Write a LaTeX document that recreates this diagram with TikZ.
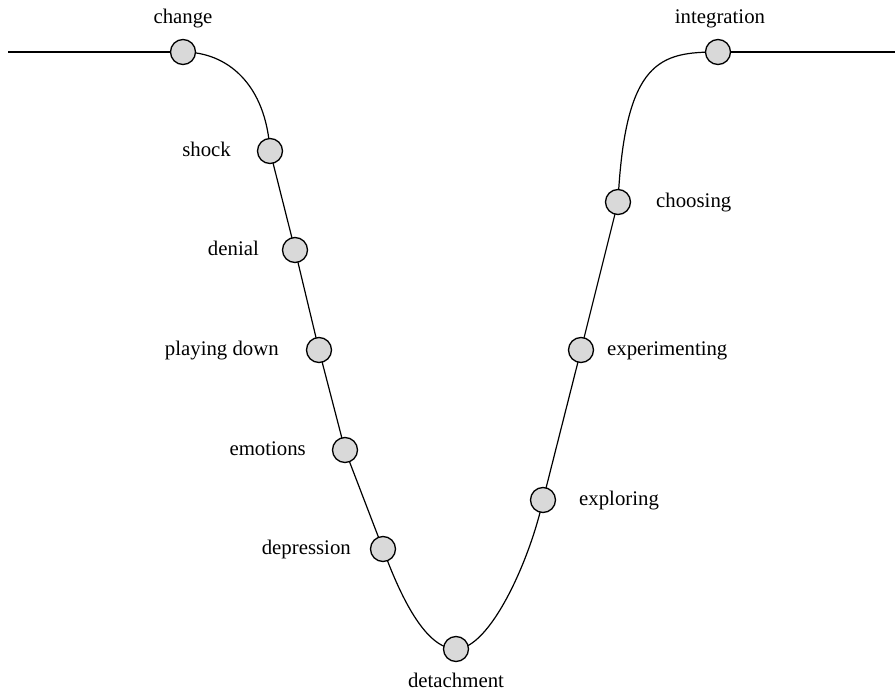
\documentclass[tikz,border=0pt]{standalone}
\usepackage{fontspec}
\setmainfont{Liberation Serif}
\definecolor{stagefill}{HTML}{D9D9D9}
\begin{document}
\begin{tikzpicture}[x=1pt,y=-1pt,
  stage/.style={circle,draw=black,line width=1.3pt,fill=stagefill,minimum size=25pt,inner sep=0pt},
  lbl/.style={font=\fontsize{20.8}{25}\selectfont,inner sep=0pt,text height=14pt,text depth=4pt},
  curve/.style={line width=1.2pt},
  base/.style={line width=2.2pt}]
\useasboundingbox (0,0) rectangle (895,693);
% node positions
\coordinate (lstart) at (8,52);
\coordinate (rend) at (895,52);
\coordinate (pchange) at (183,52);
\coordinate (pshock) at (270,151);
\coordinate (pdenial) at (295,250);
\coordinate (pplay) at (319,350);
\coordinate (pemo) at (345,450);
\coordinate (pdep) at (383,549);
\coordinate (pdet) at (456,649);
\coordinate (pexpl) at (543,500);
\coordinate (pexper) at (581,350);
\coordinate (pchoose) at (618,202);
\coordinate (pint) at (718,52);
% base lines
\draw[base] (lstart) -- (pchange);
\draw[base] (pint) -- (rend);
% the curve
\draw[curve] (pchange) .. controls (228,52) and (266,85) .. (pshock)
  -- (pdenial) -- (pplay) -- (pemo) -- (pdep)
  .. controls (400,595) and (425,649) .. (pdet)
  .. controls (490,649) and (530,560) .. (pexpl)
  -- (pexper) -- (pchoose)
  .. controls (625,60) and (660,52) .. (pint);
% stage circles
\node[stage] (change) at (pchange) {};
\node[stage] (shock) at (pshock) {};
\node[stage] (denial) at (pdenial) {};
\node[stage] (play) at (pplay) {};
\node[stage] (emo) at (pemo) {};
\node[stage] (dep) at (pdep) {};
\node[stage] (det) at (pdet) {};
\node[stage] (expl) at (pexpl) {};
\node[stage] (exper) at (pexper) {};
\node[stage] (choose) at (pchoose) {};
\node[stage] (int) at (pint) {};
% labels
\node[lbl] (tchange) at (183,19) {change};
\node[lbl] (tint) at (720,19) {integration};
\node[lbl,anchor=east] (tshock) at (231,151) {shock};
\node[lbl,anchor=east] (tdenial) at (259,250) {denial};
\node[lbl,anchor=east] (tplay) at (279,350) {playing down};
\node[lbl,anchor=east] (temo) at (306,450) {emotions};
\node[lbl,anchor=east] (tdep) at (351,549) {depression};
\node[lbl] (tdet) at (456,682) {detachment};
\node[lbl,anchor=west] (texpl) at (579,500) {exploring};
\node[lbl,anchor=west] (texper) at (607,350) {experimenting};
\node[lbl,anchor=west] (tchoose) at (656,202) {choosing};
\end{tikzpicture}
\end{document}
